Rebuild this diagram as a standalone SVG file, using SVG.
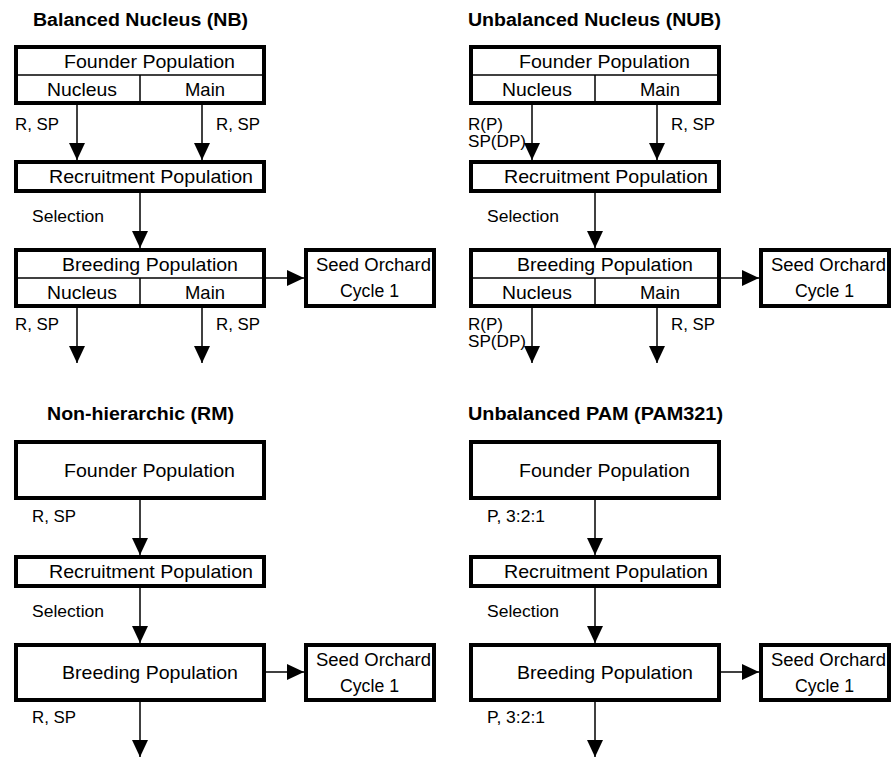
<svg xmlns="http://www.w3.org/2000/svg" width="896" height="757" viewBox="0 0 896 757">
<style>
  text { font-family: "Liberation Sans", Arial, sans-serif; fill: #000; }
  .title { font-size: 18px; font-weight: bold; }
  .box { font-size: 18.5px; }
  .so { font-size: 17.5px; }
  .lbl { font-size: 16px; }
  .frame { fill: #fff; stroke: #000; stroke-width: 4; }
  .div { stroke: #000; stroke-width: 1.5; fill: none; }
  .conn line { stroke: #000; stroke-width: 1.5; marker-end: url(#ah); }
</style>
<defs>
  <marker id="ah" markerUnits="userSpaceOnUse" markerWidth="17" markerHeight="16" viewBox="0 0 17 16" refX="17" refY="8" orient="auto">
    <path d="M0,0 L17,8 L0,16 Z" fill="#000"/>
  </marker>
</defs>
<rect width="896" height="757" fill="#fff"/>

<!-- Titles -->
<text class="title" x="33" y="26" textLength="215" lengthAdjust="spacingAndGlyphs">Balanced Nucleus (NB)</text>
<text class="title" x="468" y="26" textLength="253" lengthAdjust="spacingAndGlyphs">Unbalanced Nucleus (NUB)</text>
<text class="title" x="47" y="420" textLength="187" lengthAdjust="spacingAndGlyphs">Non-hierarchic (RM)</text>
<text class="title" x="468" y="420" textLength="255" lengthAdjust="spacingAndGlyphs">Unbalanced PAM (PAM321)</text>

<!-- ===== NB ===== -->
<g id="nb-founder">
  <rect class="frame" x="16" y="47" width="248" height="56"/>
  <line class="div" x1="16" y1="75" x2="264" y2="75"/>
  <line class="div" x1="140" y1="75" x2="140" y2="103"/>
  <text class="box" x="64" y="68" textLength="171" lengthAdjust="spacingAndGlyphs">Founder Population</text>
  <text class="box" x="47" y="96" textLength="70" lengthAdjust="spacingAndGlyphs">Nucleus</text>
  <text class="box" x="185" y="96" textLength="40" lengthAdjust="spacingAndGlyphs">Main</text>
</g>
<g id="nb-recruit">
  <rect class="frame" x="16" y="162" width="248" height="29"/>
  <text class="box" x="49" y="183" textLength="204" lengthAdjust="spacingAndGlyphs">Recruitment Population</text>
</g>
<g id="nb-breeding">
  <rect class="frame" x="16" y="250" width="248" height="56"/>
  <line class="div" x1="16" y1="278" x2="264" y2="278"/>
  <line class="div" x1="140" y1="278" x2="140" y2="306"/>
  <text class="box" x="62" y="271" textLength="176" lengthAdjust="spacingAndGlyphs">Breeding Population</text>
  <text class="box" x="47" y="299" textLength="70" lengthAdjust="spacingAndGlyphs">Nucleus</text>
  <text class="box" x="185" y="299" textLength="40" lengthAdjust="spacingAndGlyphs">Main</text>
</g>
<g id="nb-seed">
  <rect class="frame" x="306" y="250" width="128" height="56"/>
  <text class="so" x="316" y="271" textLength="115" lengthAdjust="spacingAndGlyphs">Seed Orchard</text>
  <text class="so" x="340" y="297" textLength="59" lengthAdjust="spacingAndGlyphs">Cycle 1</text>
</g>

<!-- ===== NUB ===== -->
<g id="nub-founder">
  <rect class="frame" x="471" y="47" width="248" height="56"/>
  <line class="div" x1="471" y1="75" x2="719" y2="75"/>
  <line class="div" x1="595" y1="75" x2="595" y2="103"/>
  <text class="box" x="519" y="68" textLength="171" lengthAdjust="spacingAndGlyphs">Founder Population</text>
  <text class="box" x="502" y="96" textLength="70" lengthAdjust="spacingAndGlyphs">Nucleus</text>
  <text class="box" x="640" y="96" textLength="40" lengthAdjust="spacingAndGlyphs">Main</text>
</g>
<g id="nub-recruit">
  <rect class="frame" x="471" y="162" width="248" height="29"/>
  <text class="box" x="504" y="183" textLength="204" lengthAdjust="spacingAndGlyphs">Recruitment Population</text>
</g>
<g id="nub-breeding">
  <rect class="frame" x="471" y="250" width="248" height="56"/>
  <line class="div" x1="471" y1="278" x2="719" y2="278"/>
  <line class="div" x1="595" y1="278" x2="595" y2="306"/>
  <text class="box" x="517" y="271" textLength="176" lengthAdjust="spacingAndGlyphs">Breeding Population</text>
  <text class="box" x="502" y="299" textLength="70" lengthAdjust="spacingAndGlyphs">Nucleus</text>
  <text class="box" x="640" y="299" textLength="40" lengthAdjust="spacingAndGlyphs">Main</text>
</g>
<g id="nub-seed">
  <rect class="frame" x="761" y="250" width="128" height="56"/>
  <text class="so" x="771" y="271" textLength="115" lengthAdjust="spacingAndGlyphs">Seed Orchard</text>
  <text class="so" x="795" y="297" textLength="59" lengthAdjust="spacingAndGlyphs">Cycle 1</text>
</g>

<!-- ===== RM ===== -->
<g id="rm-founder">
  <rect class="frame" x="16" y="442" width="248" height="56"/>
  <text class="box" x="64" y="477" textLength="171" lengthAdjust="spacingAndGlyphs">Founder Population</text>
</g>
<g id="rm-recruit">
  <rect class="frame" x="16" y="557" width="248" height="29"/>
  <text class="box" x="49" y="578" textLength="204" lengthAdjust="spacingAndGlyphs">Recruitment Population</text>
</g>
<g id="rm-breeding">
  <rect class="frame" x="16" y="645" width="248" height="55"/>
  <text class="box" x="62" y="679" textLength="176" lengthAdjust="spacingAndGlyphs">Breeding Population</text>
</g>
<g id="rm-seed">
  <rect class="frame" x="306" y="645" width="128" height="55"/>
  <text class="so" x="316" y="666" textLength="115" lengthAdjust="spacingAndGlyphs">Seed Orchard</text>
  <text class="so" x="340" y="692" textLength="59" lengthAdjust="spacingAndGlyphs">Cycle 1</text>
</g>

<!-- ===== PAM ===== -->
<g id="pam-founder">
  <rect class="frame" x="471" y="442" width="248" height="56"/>
  <text class="box" x="519" y="477" textLength="171" lengthAdjust="spacingAndGlyphs">Founder Population</text>
</g>
<g id="pam-recruit">
  <rect class="frame" x="471" y="557" width="248" height="29"/>
  <text class="box" x="504" y="578" textLength="204" lengthAdjust="spacingAndGlyphs">Recruitment Population</text>
</g>
<g id="pam-breeding">
  <rect class="frame" x="471" y="645" width="248" height="55"/>
  <text class="box" x="517" y="679" textLength="176" lengthAdjust="spacingAndGlyphs">Breeding Population</text>
</g>
<g id="pam-seed">
  <rect class="frame" x="761" y="645" width="128" height="55"/>
  <text class="so" x="771" y="666" textLength="115" lengthAdjust="spacingAndGlyphs">Seed Orchard</text>
  <text class="so" x="795" y="692" textLength="59" lengthAdjust="spacingAndGlyphs">Cycle 1</text>
</g>

<!-- ===== Connectors ===== -->
<g id="connectors" class="conn">
  <!-- NB -->
  <line x1="77" y1="105" x2="77" y2="160"/>
  <line x1="202" y1="105" x2="202" y2="160"/>
  <line x1="140" y1="193" x2="140" y2="248"/>
  <line x1="266" y1="278" x2="304" y2="278"/>
  <line x1="77" y1="308" x2="77" y2="363"/>
  <line x1="202" y1="308" x2="202" y2="363"/>
  <!-- NUB -->
  <line x1="532" y1="105" x2="532" y2="160"/>
  <line x1="657" y1="105" x2="657" y2="160"/>
  <line x1="595" y1="193" x2="595" y2="248"/>
  <line x1="721" y1="278" x2="759" y2="278"/>
  <line x1="532" y1="308" x2="532" y2="363"/>
  <line x1="657" y1="308" x2="657" y2="363"/>
  <!-- RM -->
  <line x1="140" y1="500" x2="140" y2="555"/>
  <line x1="140" y1="588" x2="140" y2="643"/>
  <line x1="266" y1="672" x2="304" y2="672"/>
  <line x1="140" y1="702" x2="140" y2="757"/>
  <!-- PAM -->
  <line x1="595" y1="500" x2="595" y2="555"/>
  <line x1="595" y1="588" x2="595" y2="643"/>
  <line x1="721" y1="672" x2="759" y2="672"/>
  <line x1="595" y1="702" x2="595" y2="757"/>
</g>

<!-- Connector labels -->
<g id="labels">
  <text class="lbl" x="15" y="130" textLength="44" lengthAdjust="spacingAndGlyphs">R, SP</text>
  <text class="lbl" x="216" y="130" textLength="44" lengthAdjust="spacingAndGlyphs">R, SP</text>
  <text class="lbl" x="32" y="222" textLength="72" lengthAdjust="spacingAndGlyphs">Selection</text>
  <text class="lbl" x="15" y="330" textLength="44" lengthAdjust="spacingAndGlyphs">R, SP</text>
  <text class="lbl" x="216" y="330" textLength="44" lengthAdjust="spacingAndGlyphs">R, SP</text>

  <text class="lbl" x="468" y="130" textLength="35" lengthAdjust="spacingAndGlyphs">R(P)</text>
  <text class="lbl" x="468" y="147" textLength="58" lengthAdjust="spacingAndGlyphs">SP(DP)</text>
  <text class="lbl" x="671" y="130" textLength="44" lengthAdjust="spacingAndGlyphs">R, SP</text>
  <text class="lbl" x="487" y="222" textLength="72" lengthAdjust="spacingAndGlyphs">Selection</text>
  <text class="lbl" x="468" y="330" textLength="35" lengthAdjust="spacingAndGlyphs">R(P)</text>
  <text class="lbl" x="468" y="347" textLength="58" lengthAdjust="spacingAndGlyphs">SP(DP)</text>
  <text class="lbl" x="671" y="330" textLength="44" lengthAdjust="spacingAndGlyphs">R, SP</text>

  <text class="lbl" x="32" y="522" textLength="44" lengthAdjust="spacingAndGlyphs">R, SP</text>
  <text class="lbl" x="32" y="617" textLength="72" lengthAdjust="spacingAndGlyphs">Selection</text>
  <text class="lbl" x="32" y="723" textLength="44" lengthAdjust="spacingAndGlyphs">R, SP</text>

  <text class="lbl" x="487" y="522" textLength="58" lengthAdjust="spacingAndGlyphs">P, 3:2:1</text>
  <text class="lbl" x="487" y="617" textLength="72" lengthAdjust="spacingAndGlyphs">Selection</text>
  <text class="lbl" x="487" y="723" textLength="58" lengthAdjust="spacingAndGlyphs">P, 3:2:1</text>
</g>
</svg>
